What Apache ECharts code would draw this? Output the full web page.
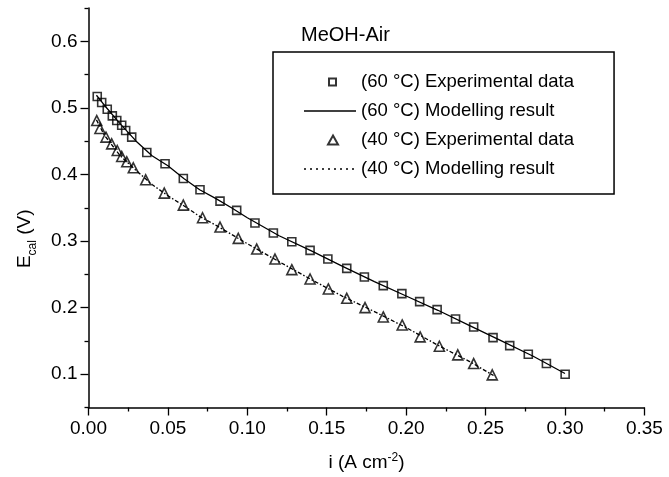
<!DOCTYPE html>
<html><head><meta charset="utf-8">
<script src="https://cdn.jsdelivr.net/npm/echarts@6/dist/echarts.min.js"></script>
<style>html,body{margin:0;padding:0;background:#fff}#c{width:669px;height:477px}</style>
</head><body><div id="c"></div>
<script>
const FONT = "'Liberation Sans', Arial, sans-serif";
const titleText = 'MeOH-Air';
const seriesNames = ['(60 °C) Experimental data', '(60 °C) Modelling result', '(40 °C) Experimental data', '(40 °C) Modelling result'];

const exp60X = [0.0055,0.0083,0.0118,0.0150,0.0178,0.0209,0.0234,0.0272,0.0367,0.0482,0.0597,0.0702,0.0828,0.0933,0.1048,0.1164,0.1280,0.1395,0.1507,0.1626,0.1737,0.1856,0.1973,0.2085,0.2195,0.2311,0.2425,0.2547,0.2652,0.2769,0.2883,0.3001];
const exp60Y = [0.517,0.508,0.498,0.488,0.481,0.474,0.466,0.456,0.433,0.416,0.394,0.377,0.360,0.346,0.327,0.312,0.299,0.286,0.273,0.259,0.246,0.233,0.221,0.209,0.197,0.183,0.171,0.155,0.143,0.130,0.116,0.100];

const exp40X = [0.0052,0.0072,0.0110,0.0146,0.0181,0.0209,0.0241,0.0282,0.0360,0.0477,0.0597,0.0718,0.0828,0.0943,0.1059,0.1174,0.1280,0.1395,0.1510,0.1626,0.1741,0.1856,0.1975,0.2088,0.2209,0.2325,0.2425,0.2542];
const exp40Y = [0.481,0.469,0.456,0.446,0.436,0.427,0.419,0.410,0.392,0.372,0.354,0.335,0.321,0.304,0.288,0.273,0.257,0.243,0.228,0.214,0.200,0.186,0.174,0.156,0.142,0.129,0.116,0.099];

const mod60X = [0.005,0.01,0.02,0.03,0.04,0.05,0.06,0.07,0.08,0.09,0.10,0.12,0.14,0.16,0.18,0.20,0.22,0.24,0.26,0.28,0.30];
const mod60Y = [0.519,0.504,0.476,0.450,0.428,0.413,0.394,0.377,0.364,0.350,0.335,0.308,0.2855,0.262,0.239,0.2175,0.196,0.173,0.150,0.127,0.101];

const mod40X = [0.005,0.01,0.02,0.03,0.04,0.05,0.06,0.07,0.08,0.09,0.10,0.12,0.14,0.16,0.18,0.20,0.22,0.24,0.255];
const mod40Y = [0.482,0.459,0.428,0.406,0.385,0.368,0.353,0.337,0.324,0.310,0.296,0.269,0.2425,0.217,0.194,0.170,0.1435,0.119,0.098];

const yMajorTicks = [0.1,0.2,0.3,0.4,0.5,0.6];
const yMinorTicks = [0.05,0.15,0.25,0.35,0.45,0.55,0.65];

const zip = (xs, ys) => xs.map((x, i) => [x, ys[i]]);

// legend icons: a small symbol inside a 52x10 box (so it is not stretched)
const squareIcon = 'path://M0,0L0,0M52,10L52,10M25,1.5L32,1.5L32,8.5L25,8.5Z';
const triangleIcon = 'path://M0,0L0,0M52,10L52,10M29,0.5L34,9.5L24,9.5Z';
const hiddenDot = {color: 'rgba(0,0,0,0)', borderWidth: 0, borderColor: 'rgba(0,0,0,0)'};

const chart = echarts.init(document.getElementById('c'), null, {renderer: 'canvas'});
const black = '#000';
const option = {
  backgroundColor: '#fff',
  animation: false,
  textStyle: {fontFamily: FONT, color: black},
  title: {
    text: titleText, left: 296, top: 20,
    textStyle: {fontFamily: FONT, fontSize: 20, fontWeight: 'normal', color: black}
  },
  legend: {
    orient: 'vertical', left: 273, top: 52,
    padding: [20, 40, 15, 30],
    borderColor: black, borderWidth: 1.5,
    itemWidth: 52, itemHeight: 10, itemGap: 9,
    selectedMode: false,
    textStyle: {fontFamily: FONT, fontSize: 18.5, color: black, lineHeight: 20},
    data: [
      {name: seriesNames[0], icon: squareIcon},
      {name: seriesNames[1], itemStyle: hiddenDot, lineStyle: {type: 'solid', width: 1.4, color: black}},
      {name: seriesNames[2], icon: triangleIcon},
      {name: seriesNames[3], itemStyle: hiddenDot, lineStyle: {type: [2, 4], width: 1.4, color: black}}
    ]
  },
  grid: {left: 88.5, right: 24.6, top: 8, bottom: 65, containLabel: false},
  xAxis: {
    type: 'value', min: 0, max: 0.35, interval: 0.05,
    axisLine: {onZero: false, lineStyle: {color: black, width: 1.5}},
    axisTick: {length: 8, lineStyle: {color: black, width: 1.3}},
    minorTick: {show: true, splitNumber: 2, length: 4, lineStyle: {color: black, width: 1.3}},
    splitLine: {show: false}, minorSplitLine: {show: false},
    axisLabel: {fontFamily: FONT, fontSize: 19, color: black, margin: 12, formatter: v => v.toFixed(2)},
    name: '{a|i (A cm}{s|-2}{a|)}', nameLocation: 'middle', nameGap: 44,
    nameTextStyle: {
      fontFamily: FONT, fontSize: 19, color: black,
      rich: {
        a: {fontFamily: FONT, fontSize: 19, color: black, lineHeight: 22},
        s: {fontFamily: FONT, fontSize: 12, color: black, verticalAlign: 'top', lineHeight: 14}
      }
    }
  },
  yAxis: [{
    type: 'value', min: 0.05, max: 0.65, interval: 0.05,
    axisLine: {onZero: false, lineStyle: {color: black, width: 1.5}},
    axisTick: {length: 8, customValues: yMajorTicks, lineStyle: {color: black, width: 1.3}},
    splitLine: {show: false},
    axisLabel: {customValues: yMajorTicks, fontFamily: FONT, fontSize: 19, color: black, margin: 11, formatter: v => v.toFixed(1)},
    name: '{a|E}{s|cal}{a| (V)}', nameLocation: 'middle', nameGap: 53, nameRotate: 90,
    nameTextStyle: {
      fontFamily: FONT, fontSize: 19, color: black, padding: [0, 62, 0, 0],
      rich: {
        a: {fontFamily: FONT, fontSize: 19, color: black, lineHeight: 22},
        s: {fontFamily: FONT, fontSize: 12, color: black, verticalAlign: 'bottom', lineHeight: 12, padding: [0, 0, -3, 0]}
      }
    }
  }, {
    type: 'value', min: 0.05, max: 0.65, interval: 0.05, position: 'left',
    axisLine: {show: false},
    axisTick: {length: 4, customValues: yMinorTicks, lineStyle: {color: black, width: 1.3}},
    axisLabel: {show: false},
    splitLine: {show: false}
  }],
  series: [
    {
      name: seriesNames[0], type: 'scatter', data: zip(exp60X, exp60Y),
      symbol: 'rect', symbolSize: 8,
      itemStyle: {color: 'rgba(255,255,255,0)', borderColor: black, borderWidth: 1.6},
      emphasis: {disabled: true}, z: 3
    },
    {
      name: seriesNames[1], type: 'line', data: zip(mod60X, mod60Y),
      symbol: 'none', lineStyle: {color: black, width: 1.3},
      itemStyle: {color: black},
      emphasis: {disabled: true}, z: 2
    },
    {
      name: seriesNames[2], type: 'scatter', data: zip(exp40X, exp40Y),
      symbol: 'triangle', symbolSize: 10,
      itemStyle: {color: 'rgba(255,255,255,0)', borderColor: black, borderWidth: 1.6},
      emphasis: {disabled: true}, z: 3
    },
    {
      name: seriesNames[3], type: 'line', data: zip(mod40X, mod40Y),
      symbol: 'none', lineStyle: {color: black, width: 1.3, type: [4, 2, 1.5, 2]},
      itemStyle: {color: black},
      emphasis: {disabled: true}, z: 2
    }
  ]
};
chart.setOption(option);
</script>
</body></html>
